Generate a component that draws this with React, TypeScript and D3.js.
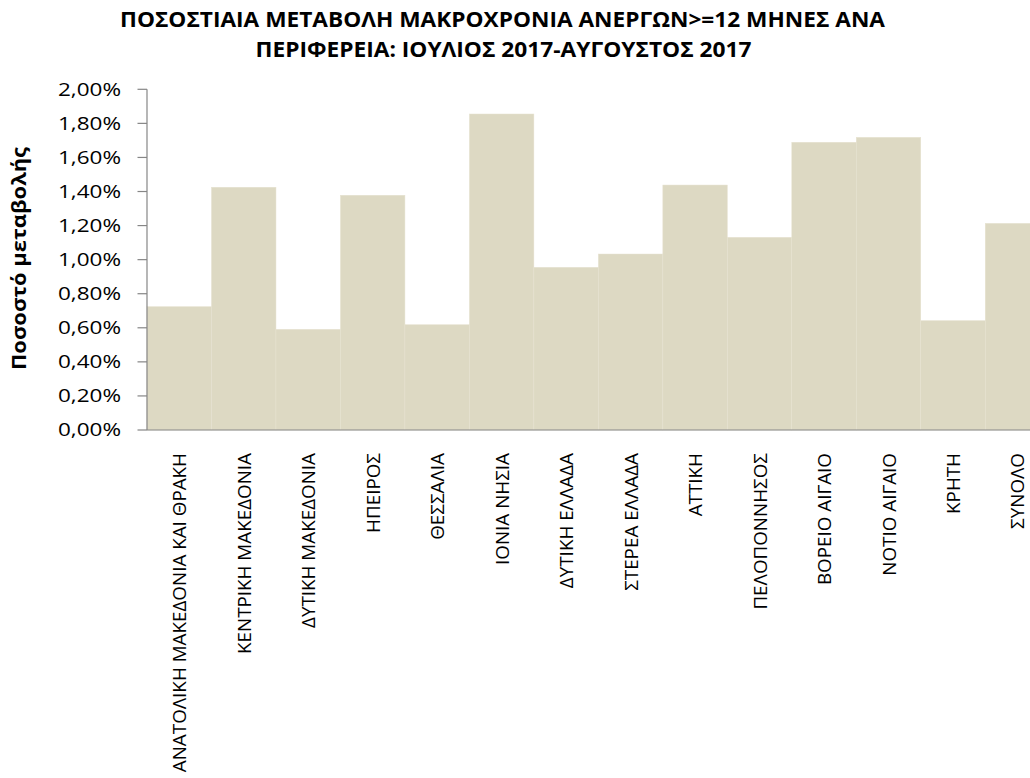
import React from "react";
import * as d3 from "d3";

const categories: string[] = [
  "ΑΝΑΤΟΛΙΚΗ ΜΑΚΕΔΟΝΙΑ ΚΑΙ ΘΡΑΚΗ",
  "ΚΕΝΤΡΙΚΗ ΜΑΚΕΔΟΝΙΑ",
  "ΔΥΤΙΚΗ ΜΑΚΕΔΟΝΙΑ",
  "ΗΠΕΙΡΟΣ",
  "ΘΕΣΣΑΛΙΑ",
  "ΙΟΝΙΑ ΝΗΣΙΑ",
  "ΔΥΤΙΚΗ ΕΛΛΑΔΑ",
  "ΣΤΕΡΕΑ ΕΛΛΑΔΑ",
  "ΑΤΤΙΚΗ",
  "ΠΕΛΟΠΟΝΝΗΣΟΣ",
  "ΒΟΡΕΙΟ ΑΙΓΑΙΟ",
  "ΝΟΤΙΟ ΑΙΓΑΙΟ",
  "ΚΡΗΤΗ",
  "ΣΥΝΟΛΟ",
];

const values: number[] = [
  0.00724, 0.01425, 0.00591, 0.01378, 0.00618, 0.01855, 0.00955,
  0.01033, 0.01438, 0.01131, 0.01689, 0.01718, 0.00642, 0.01213,
];

const yTicks: number[] = [0, 0.002, 0.004, 0.006, 0.008, 0.01, 0.012, 0.014, 0.016, 0.018, 0.02];

const titleLines: string[] = [
  "ΠΟΣΟΣΤΙΑΙΑ ΜΕΤΑΒΟΛΗ ΜΑΚΡΟΧΡΟΝΙΑ ΑΝΕΡΓΩΝ>=12 ΜΗΝΕΣ ΑΝΑ",
  "ΠΕΡΙΦΕΡΕΙΑ: ΙΟΥΛΙΟΣ 2017-ΑΥΓΟΥΣΤΟΣ 2017",
];
const yAxisTitle = "Ποσοστό μεταβολής";

const W = 1030;
const H = 778;
const left = 147;
const bandW = 64.48;
const top = 89.3;
const bottom = 430;
const font = "'Open Sans', 'Noto Sans', 'Liberation Sans', sans-serif";
const axisColor = "#868686";
const barColor = "#DDD9C3";

export default function App() {
  const x = d3
    .scaleBand<string>()
    .domain(categories)
    .range([left, left + bandW * categories.length])
    .padding(0);
  const y = d3.scaleLinear().domain([0, 0.02]).range([bottom, top]);
  const fmt = (v: number) => d3.format(".2f")(v * 100).replace(".", ",") + "%";

  return (
    <svg
      width={W}
      height={H}
      style={{ position: "absolute", left: 0, top: 0, background: "#fff" }}
      fontFamily={font}
    >
      {/* title */}
      <text
        x={502.5}
        y={26.7}
        textAnchor="middle"
        fontWeight="bold"
        fontSize={22}
        textLength={765}
        lengthAdjust="spacingAndGlyphs"
        fill="#000"
      >
        {titleLines[0]}
      </text>
      <text
        x={503.5}
        y={56.5}
        textAnchor="middle"
        fontWeight="bold"
        fontSize={22}
        textLength={496}
        lengthAdjust="spacingAndGlyphs"
        fill="#000"
      >
        {titleLines[1]}
      </text>

      {/* bars */}
      {categories.map((c, i) => (
        <rect
          key={c}
          x={x(c)!}
          y={y(values[i])}
          width={x.bandwidth()}
          height={bottom - y(values[i])}
          fill={barColor}
          stroke="#E6E2D0"
          strokeWidth={0.5}
        />
      ))}

      {/* y axis */}
      <line x1={left} x2={left} y1={top} y2={bottom} stroke={axisColor} strokeWidth={1.2} />
      {yTicks.map((t) => (
        <g key={t}>
          <line x1={left - 9.5} x2={left} y1={y(t)} y2={y(t)} stroke={axisColor} strokeWidth={1.2} />
          <text
            transform={`translate(121,${y(t)}) scale(1.25,1)`}
            dy="0.36em"
            textAnchor="end"
            fontSize={18}
            fill="#000"
          >
            {fmt(t)}
          </text>
        </g>
      ))}
      {/* x axis */}
      <line x1={left} x2={W} y1={bottom} y2={bottom} stroke={axisColor} strokeWidth={1.2} />

      {/* y axis title */}
      <text
        transform={`translate(26,258.5) rotate(-90)`}
        textAnchor="middle"
        fontWeight="bold"
        fontSize={19.5}
        textLength={223}
        lengthAdjust="spacingAndGlyphs"
        fill="#000"
      >
        {yAxisTitle}
      </text>

      {/* x labels */}
      {categories.map((c) => (
        <text
          key={c}
          transform={`translate(${x(c)! + x.bandwidth() / 2 + 7},453) rotate(-90) scale(1.046,1)`}
          textAnchor="end"
          fontSize={18}
          fill="#000"
        >
          {c}
        </text>
      ))}
    </svg>
  );
}
